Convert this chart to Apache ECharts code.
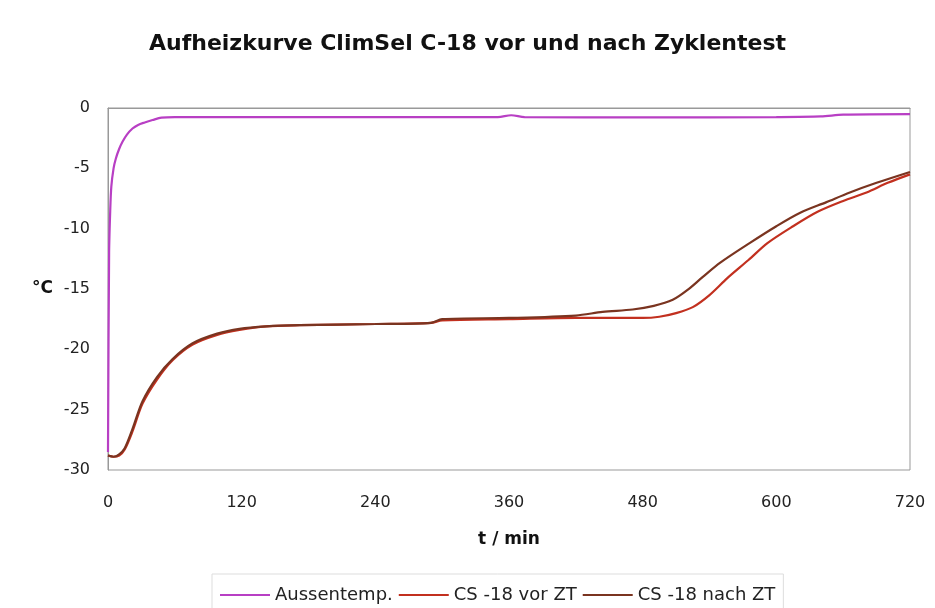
<!DOCTYPE html>
<html><head><meta charset="utf-8">
<script src="https://cdn.jsdelivr.net/npm/echarts@6/dist/echarts.min.js"></script>
<style>html,body{margin:0;padding:0;background:#fff}#c{width:935px;height:608px}</style>
</head><body><div id="c"></div>
<script>
const titleText = 'Aufheizkurve ClimSel C-18 vor und nach Zyklentest';
const seriesNames = ['Aussentemp.', 'CS -18 vor ZT', 'CS -18 nach ZT'];
const xTicks = [0, 120, 240, 360, 480, 600, 720];
const yTicks = [0, -5, -10, -15, -20, -25, -30];

const tAussen = [0, 1, 2, 3, 5, 7, 10, 13, 17, 22, 27, 33, 40, 48, 60, 120, 240, 350, 362, 374, 480, 600, 640, 660, 720];
const vAussen = [-28.5, -12, -8.5, -6.5, -5, -4.2, -3.4, -2.8, -2.2, -1.7, -1.4, -1.2, -1.0, -0.8, -0.75, -0.75, -0.75, -0.75, -0.6, -0.75, -0.78, -0.75, -0.7, -0.55, -0.5];

const tVor = [0, 5, 10, 15, 22, 31, 44, 58, 76, 98, 118, 142, 172, 240, 290, 300, 360, 420, 480, 495, 510, 525, 540, 556, 575, 592, 615, 637, 660, 681, 700, 720];
const vVor = [-28.8, -28.9, -28.8, -28.3, -26.8, -24.5, -22.5, -20.9, -19.6, -18.8, -18.4, -18.1, -18.0, -17.9, -17.8, -17.6, -17.5, -17.4, -17.4, -17.3, -17.0, -16.5, -15.5, -14.1, -12.6, -11.2, -9.8, -8.6, -7.7, -7.0, -6.2, -5.5];

const tNach = [0, 5, 10, 15, 22, 31, 44, 58, 76, 98, 118, 142, 172, 240, 290, 300, 360, 420, 444, 471, 490, 507, 520, 534, 550, 576, 600, 621, 645, 666, 690, 720];
const vNach = [-28.8, -28.9, -28.7, -28.2, -26.6, -24.3, -22.3, -20.8, -19.5, -18.7, -18.3, -18.1, -18.0, -17.9, -17.8, -17.5, -17.4, -17.2, -16.9, -16.7, -16.4, -15.9, -15.1, -14.0, -12.8, -11.2, -9.8, -8.7, -7.8, -7.0, -6.2, -5.3];

const colors = ['#B83FC4', '#C2301F', '#7A3420'];
const zip = (t, v) => t.map((x, i) => [x, v[i]]);
const seriesData = [zip(tAussen, vAussen), zip(tVor, vVor), zip(tNach, vNach)];

const chart = echarts.init(document.getElementById('c'), null, {renderer: 'canvas'});
const font = 'DejaVu Sans, Verdana, sans-serif';
chart.setOption({
  animation: false,
  backgroundColor: '#fff',
  title: {
    text: titleText, left: 'center', top: 28, padding: [5, 5, 5, 27],
    textStyle: {fontFamily: font, fontSize: 22, fontWeight: 'bold', color: '#111'}
  },
  grid: {left: 108, right: 25, top: 108, bottom: 138, show: true, borderColor: '#999', borderWidth: 1},
  legend: {
    top: 574, left: 212,
    data: seriesNames,
    icon: 'rect', itemWidth: 50, itemHeight: 2, itemGap: 6,
    borderColor: '#ddd', borderWidth: 1, padding: [12, 8, 20, 8],
    textStyle: {fontFamily: font, fontSize: 18, color: '#222'}
  },
  xAxis: {
    type: 'value', min: 0, max: 720, interval: 120,
    name: 't / min', nameLocation: 'middle', nameGap: 61,
    nameTextStyle: {fontFamily: font, fontSize: 17, fontWeight: 'bold', color: '#111'},
    axisLine: {show: true, lineStyle: {color: '#999'}},
    axisTick: {show: false},
    splitLine: {show: false},
    axisLabel: {fontFamily: font, fontSize: 16, color: '#222', margin: 25,
      formatter: v => xTicks.includes(v) ? String(v) : ''}
  },
  yAxis: {
    type: 'value', min: -30, max: 0, interval: 5,
    name: '°C', nameLocation: 'middle', nameRotate: 0, nameGap: 55,
    nameTextStyle: {fontFamily: font, fontSize: 17, fontWeight: 'bold', color: '#111'},
    axisLine: {show: true, lineStyle: {color: '#999'}},
    axisTick: {show: false},
    splitLine: {show: false},
    axisLabel: {fontFamily: font, fontSize: 16, color: '#222', margin: 18,
      formatter: v => yTicks.includes(v) ? String(v) : ''}
  },
  series: seriesNames.map((n, i) => ({
    name: n, type: 'line', data: seriesData[i], showSymbol: false, smooth: 0.3,
    lineStyle: {width: 2.2, color: colors[i]}, itemStyle: {color: colors[i]},
    z: i === 0 ? 3 : 2
  }))
});
</script></body></html>
